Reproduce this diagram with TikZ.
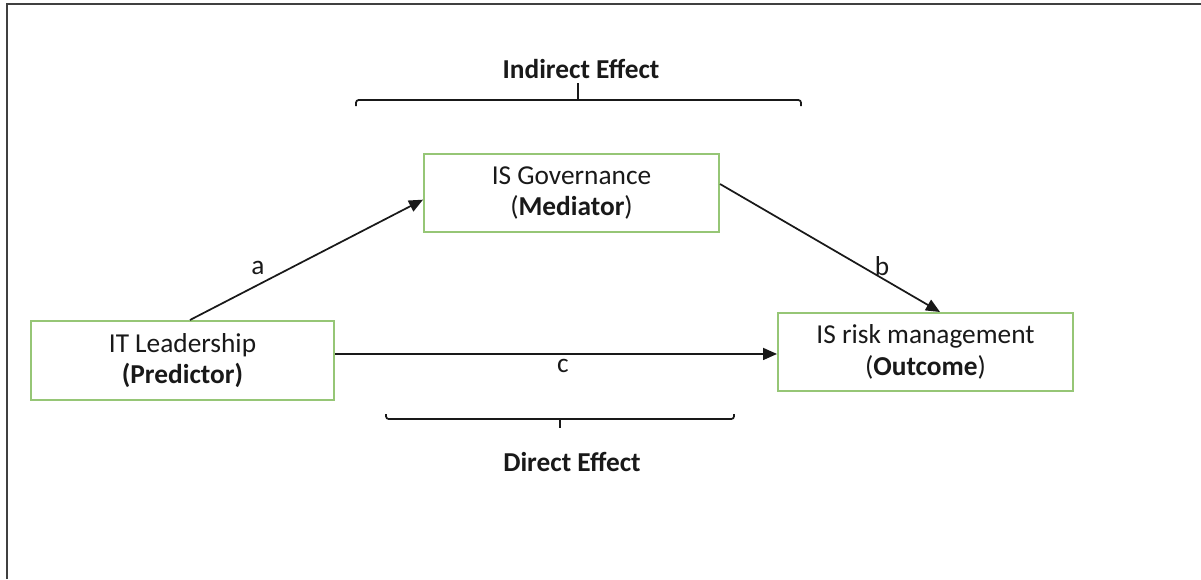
\documentclass[tikz,border=0pt]{standalone}
\usepackage{fontspec}
\setmainfont{Carlito}
\usetikzlibrary{arrows.meta,calc}
\definecolor{boxgreen}{RGB}{150,198,118}
\definecolor{txt}{RGB}{25,25,25}
\tikzset{
  varbox/.style={draw=boxgreen, line width=1.5pt, fill=white, rectangle, align=center,
    font=\fontsize{20.5}{23.5}\selectfont, text=txt, inner sep=0pt},
  conn/.style={draw=txt, line width=1.3pt, -{Triangle[length=10.5pt,width=9pt]}},
  lbl/.style={font=\fontsize{20.5}{23.5}\selectfont, text=txt, inner sep=0pt},
  ttl/.style={font=\fontsize{20.5}{23.5}\selectfont\bfseries, text=txt, inner sep=0pt},
  brace/.style={draw=txt, line width=1.3pt, rounded corners=2pt},
  frame/.style={draw=black!75, line width=1.6pt}
}
\begin{document}
\begin{tikzpicture}[x=0.75pt,y=-0.75pt]
\useasboundingbox (0,0) rectangle (1201,579);
\draw[frame] (7,579) -- (7,4) -- (1201,4);

\node[varbox, minimum width=227.25pt, minimum height=59.25pt] (it) at (182.5,360.5) {IT Leadership\\\textbf{(Predictor)}};
\node[varbox, minimum width=221.25pt, minimum height=58.5pt] (gov) at (571.5,193) {IS Governance\\(\textbf{Mediator})};
\node[varbox, minimum width=221.25pt, minimum height=58.5pt] (risk) at (925.5,352) {IS risk management\\(\textbf{Outcome})};

\coordinate (cstart) at ([yshift=4.9pt]it.east);
\draw[conn] ([xshift=5.6pt]it.north) -- ([yshift=-5pt]gov.west);
\draw[conn] ([yshift=6.75pt]gov.east) -- ([xshift=10.9pt]risk.north);
\draw[conn] (cstart) -- (cstart -| risk.west);

\node[lbl] (la) at (258,268) {a};
\node[lbl] (lb) at (882,266) {b};
\node[lbl] (lc) at (563,366) {c};

\draw[brace] (356,106) -- (356,100) -- (801,100) -- (801,106);
\draw[draw=txt, line width=1.3pt] (578,100) -- (578,83);
\node[ttl] (ind) at (581,69) {Indirect Effect};

\draw[brace] (386,414) -- (386,419) -- (734,419) -- (734,414);
\draw[draw=txt, line width=1.3pt] (560,419) -- (560,428);
\node[ttl] (dir) at (572,462) {Direct Effect};
\end{tikzpicture}
\end{document}
